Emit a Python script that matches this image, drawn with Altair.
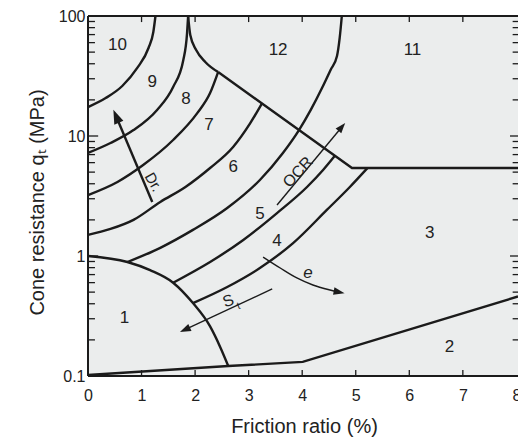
import altair as alt
import pandas as pd

X_MAX = 8.03
FONT = "Liberation Sans"
INK = "#1b1b1b"
TXT = "#222222"

# ---------------- boundary curves (friction ratio %, cone resistance MPa) ----------------
zone1_x = [0.0, 0.736, 1.16, 1.59, 1.96, 2.28, 2.47, 2.62]
zone1_q = [1.0, 0.891, 0.762, 0.599, 0.405, 0.259, 0.174, 0.121]

arc_10_9_x = [0.0, 0.33, 0.64, 0.92, 1.13, 1.22, 1.26]
arc_10_9_q = [17.4, 20.7, 26.1, 36.9, 54.1, 73.6, 100]

arc_9_8_x = [0.0, 0.42, 0.85, 1.29, 1.59, 1.78, 1.85, 1.87]
arc_9_8_q = [7.22, 8.74, 11.2, 16.5, 25.6, 43.0, 72.1, 100]

arc_12_left_x = [1.87, 1.91, 2.02, 2.19, 2.43]
arc_12_left_q = [100, 69.5, 52.1, 41.4, 34.1]

arc_8_7_x = [0.0, 0.55, 1.03, 1.59, 2.04, 2.28, 2.43]
arc_8_7_q = [3.22, 4.14, 5.73, 9.26, 15.5, 22.8, 34.1]

arc_7_6_x = [0.0, 0.42, 0.85, 1.35, 1.82, 2.28, 2.71, 3.03, 3.25]
arc_7_6_q = [1.50, 1.68, 2.0, 2.82, 3.76, 5.41, 8.1, 12.8, 18.7]

arc_6_5_x = [0.736, 1.35, 1.96, 2.60, 3.21, 3.64, 3.94, 4.16, 4.37, 4.53, 4.65, 4.70, 4.74]
arc_6_5_q = [0.891, 1.17, 1.65, 2.51, 4.30, 7.22, 11.2, 16.5, 25.1, 35.5, 46.4, 65.6, 100]

arc_5_4_x = [1.59, 2.28, 2.90, 3.53, 4.09, 4.39, 4.61]
arc_5_4_q = [0.599, 0.891, 1.36, 2.28, 3.76, 5.21, 6.84]

arc_4_3_x = [1.96, 2.60, 3.21, 3.83, 4.46, 4.89, 5.22]
arc_4_3_q = [0.405, 0.552, 0.794, 1.28, 2.42, 3.76, 5.41]

# straight boundaries
border_12_x = [2.43, 4.93, X_MAX]
border_12_q = [34.1, 5.41, 5.41]

zone2_x = [0.0, 2.62, 4.01, X_MAX]
zone2_q = [0.102, 0.121, 0.131, 0.46]

# ---------------- trend arrows ----------------
dr_x = [1.20, 0.525]
dr_q = [2.82, 14.6]
ocr_x = [3.53, 4.74]
ocr_q = [2.66, 11.9]
e_x = [3.27, 3.59, 3.90, 4.20, 4.52, 4.69]
e_q = [0.98, 0.794, 0.656, 0.573, 0.521, 0.50]
st_x = [3.44, 1.81]
st_q = [0.531, 0.243]

head_x = [0.525, 4.74, 4.69, 1.81]
head_q = [14.6, 11.9, 0.50, 0.243]
head_angle = [337, 40, 101, 245]
head_size = [196, 110, 121, 121]

# ---------------- labels ----------------
zone_names = ["1", "2", "3", "4", "5", "6", "7", "8", "9", "10", "11", "12"]
zone_x = [0.68, 6.75, 6.38, 3.53, 3.21, 2.71, 2.26, 1.83, 1.20, 0.55, 6.06, 3.55]
zone_q = [0.304, 0.174, 1.56, 1.33, 2.24, 5.52, 12.4, 20.3, 28.2, 57.3, 52.1, 52.1]

note_text = ["Dr.", "OCR", "S", "t"]
note_x = [1.22, 3.92, 2.62, 2.81]
note_q = [4.14, 5.0, 0.422, 0.383]
note_angle = [60, 313, 340, 340]
note_size = [15, 16, 16, 10]

e_label_x = [4.11]
e_label_q = [0.722]

x_tick_values = [0, 1, 2, 3, 4, 5, 6, 7, 8]
y_tick_values = [0.1, 1, 10, 100]
decades = [0.1, 1, 10]
minor_mult = [2, 3, 4, 5, 6, 7, 8, 9]

# ---------------- build tables ----------------
def lines_df(items):
    rows = []
    for name, xs, qs in items:
        for i, (a, b) in enumerate(zip(xs, qs)):
            rows.append({"id": name, "o": i, "x": a, "q": b})
    return pd.DataFrame(rows)

curves_df = lines_df([
    ("z1", zone1_x, zone1_q), ("a109", arc_10_9_x, arc_10_9_q),
    ("a98", arc_9_8_x, arc_9_8_q), ("a12", arc_12_left_x, arc_12_left_q),
    ("a87", arc_8_7_x, arc_8_7_q), ("a76", arc_7_6_x, arc_7_6_q),
    ("a65", arc_6_5_x, arc_6_5_q), ("a54", arc_5_4_x, arc_5_4_q),
    ("a43", arc_4_3_x, arc_4_3_q),
])
straight_df = lines_df([("b12", border_12_x, border_12_q), ("z2", zone2_x, zone2_q)])
thick_arrow_df = lines_df([("dr", dr_x, dr_q)])
thin_arrow_df = lines_df([("ocr", ocr_x, ocr_q), ("st", st_x, st_q)])
e_arrow_df = lines_df([("e", e_x, e_q)])

heads_df = pd.DataFrame({"x": head_x, "q": head_q, "angle": head_angle, "size": head_size})
zones_df = pd.DataFrame({"t": zone_names, "x": zone_x, "q": zone_q})
notes_df = pd.DataFrame({"t": note_text, "x": note_x, "q": note_q,
                         "angle": note_angle, "fs": note_size})
e_df = pd.DataFrame({"t": ["e"], "x": e_label_x, "q": e_label_q})

frame_df = pd.DataFrame({
    "x": [0, 0, 0], "x2": [X_MAX, X_MAX, 0],
    "q": [100, 0.1, 0.1], "q2": [100, 0.1, 100],
})

tick_rows = []
for d in decades:
    for m in [1] + minor_mult:
        v = d * m
        major = m == 1
        tick_rows.append({"x": 0, "x2": 0.19 if major else 0.13, "q": v, "q2": v})
        tick_rows.append({"x": X_MAX - (0.15 if major else 0.1), "x2": X_MAX, "q": v, "q2": v})
for k in x_tick_values[1:-1]:
    tick_rows.append({"x": k, "x2": k, "q": 100, "q2": 89})
    tick_rows.append({"x": k, "x2": k, "q": 0.1, "q2": 0.112})
ticks_df = pd.DataFrame(tick_rows)

# ---------------- scales & axes (identical in every layer) ----------------
xscale = alt.Scale(domain=[0, X_MAX], nice=False, zero=False)
yscale = alt.Scale(type="log", domain=[0.1, 100], nice=False)

x_axis = alt.Axis(values=x_tick_values, title="Friction ratio (%)", ticks=False, tickSize=0,
                  domain=False, grid=False, labelFont=FONT, labelFontSize=16, labelColor=TXT,
                  labelPadding=24, labelBaseline="alphabetic", labelFlush=False, labelOverlap=False,
                  titleFont=FONT, titleFontSize=20, titleFontWeight="normal", titleColor=TXT,
                  titleX=216, titleY=56, titleAlign="center", titleBaseline="alphabetic")
y_axis = alt.Axis(values=y_tick_values, format="~g", title="Cone resistance qₜ (MPa)",
                  ticks=False, tickSize=0, domain=False, grid=False, labelFont=FONT,
                  labelFontSize=16, labelColor=TXT, labelPadding=3, labelBaseline="middle",
                  labelAlign="right", labelFlush=False, labelOverlap=False,
                  titleFont=FONT, titleFontSize=20, titleFontWeight="normal", titleColor=TXT,
                  titleAngle=270, titleX=-51, titleY=186, titleAlign="center",
                  titleBaseline="middle")


def X():
    return alt.X("x:Q", scale=xscale, axis=x_axis, title="Friction ratio (%)")


def Y():
    return alt.Y("q:Q", scale=yscale, axis=y_axis, title="Cone resistance qₜ (MPa)")


frame = alt.Chart(frame_df).mark_rule(color=INK, strokeWidth=2).encode(
    x=X(), x2="x2:Q", y=Y(), y2="q2:Q")
ticks = alt.Chart(ticks_df).mark_rule(color=INK, strokeWidth=1.3).encode(
    x=X(), x2="x2:Q", y=Y(), y2="q2:Q")

curves = alt.Chart(curves_df).mark_line(color=INK, strokeWidth=2.4, interpolate="monotone").encode(
    x=X(), y=Y(), detail="id:N", order="o:Q")
straight = alt.Chart(straight_df).mark_line(color=INK, strokeWidth=2.4).encode(
    x=X(), y=Y(), detail="id:N", order="o:Q")
thick_arrow = alt.Chart(thick_arrow_df).mark_line(color=INK, strokeWidth=2.4).encode(
    x=X(), y=Y(), detail="id:N", order="o:Q")
thin_arrow = alt.Chart(thin_arrow_df).mark_line(color=INK, strokeWidth=1.4).encode(
    x=X(), y=Y(), detail="id:N", order="o:Q")
e_arrow = alt.Chart(e_arrow_df).mark_line(color=INK, strokeWidth=1.4, interpolate="monotone").encode(
    x=X(), y=Y(), detail="id:N", order="o:Q")
heads = alt.Chart(heads_df).mark_point(shape="M0,-1L0.7,1L-0.7,1Z", filled=True, color=INK,
                                       opacity=1, strokeWidth=0).encode(
    x=X(), y=Y(), size=alt.Size("size:Q", scale=None), angle=alt.Angle("angle:Q", scale=None))

zones = alt.Chart(zones_df).mark_text(font=FONT, fontSize=17, color=TXT, align="center",
                                      baseline="middle").encode(x=X(), y=Y(), text="t:N")
notes = alt.Chart(notes_df).mark_text(font=FONT, color=TXT, align="center",
                                      baseline="middle").encode(
    x=X(), y=Y(), text="t:N", angle=alt.Angle("angle:Q", scale=None),
    size=alt.Size("fs:Q", scale=None))
e_label = alt.Chart(e_df).mark_text(font=FONT, fontSize=17, fontStyle="italic", color=TXT,
                                    align="center", baseline="middle").encode(x=X(), y=Y(), text="t:N")

chart = alt.layer(frame, ticks, curves, straight, thick_arrow, thin_arrow, e_arrow, heads,
                  zones, notes, e_label).properties(
    width=430, height=360,
    autosize=alt.AutoSizeParams(type="none"),
    padding={"left": 88, "top": 16, "right": 0, "bottom": 65},
    background="white",
).configure_view(stroke=None, fill="#ebeded")

chart.save("out.html", embed_options={"renderer": "svg", "actions": False})
